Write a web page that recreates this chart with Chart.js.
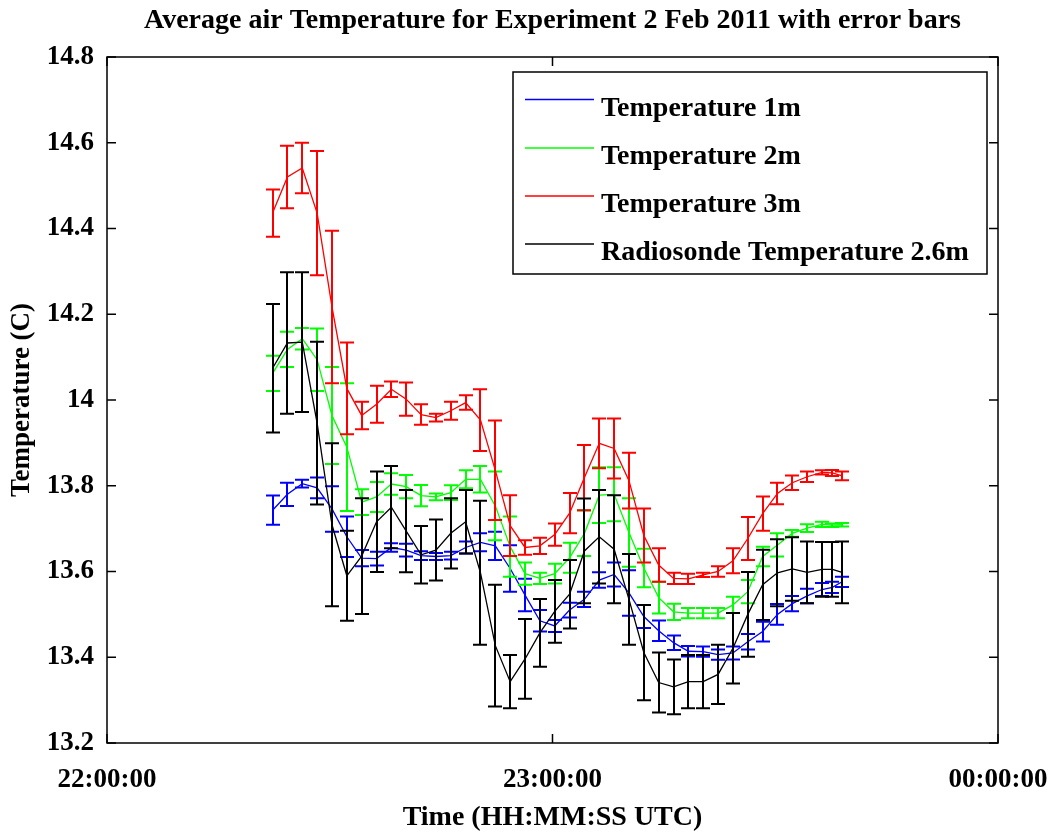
<!DOCTYPE html>
<html>
<head>
<meta charset="utf-8">
<title>Average air Temperature for Experiment 2 Feb 2011 with error bars</title>
<script src="https://cdn.jsdelivr.net/npm/chart.js@4.4.1/dist/chart.umd.min.js"></script>
<style>
  html, body { margin: 0; padding: 0; background: #ffffff; }
  #wrap { width: 1053px; height: 835px; position: relative; }
</style>
</head>
<body>
<div id="wrap"><canvas id="chart" width="1053" height="835"></canvas></div>
<script>
// Sample times, minutes after 22:00:00 UTC
const sampleMinutes = [22.3, 24.3, 26.3, 28.3, 30.3, 32.3, 34.3, 36.3, 38.3, 40.3,
  42.3, 44.3, 46.3, 48.3, 50.3, 52.3, 54.3, 56.3, 58.3, 60.3,
  62.3, 64.3, 66.3, 68.3, 70.3, 72.3, 74.3, 76.3, 78.3, 80.3,
  82.3, 84.3, 86.3, 88.3, 90.3, 92.3, 94.3, 96.3, 97.7, 99.0];

// Mean air temperature (C) and one-sided error, per sensor
const temp1m = [13.743, 13.780, 13.805, 13.795, 13.746, 13.681, 13.631, 13.630, 13.656, 13.650,
  13.637, 13.635, 13.637, 13.656, 13.668, 13.660, 13.607, 13.545, 13.485, 13.473,
  13.510, 13.535, 13.580, 13.593, 13.550, 13.495, 13.462, 13.434, 13.414, 13.413,
  13.406, 13.410, 13.436, 13.460, 13.500, 13.525, 13.543, 13.558, 13.563, 13.576];
const err1m = [0.034, 0.027, 0.009, 0.024, 0.053, 0.047, 0.019, 0.016, 0.010, 0.015,
  0.010, 0.008, 0.009, 0.014, 0.021, 0.033, 0.054, 0.038, 0.025, 0.014,
  0.017, 0.018, 0.018, 0.028, 0.053, 0.027, 0.024, 0.017, 0.012, 0.012,
  0.012, 0.015, 0.018, 0.023, 0.024, 0.018, 0.017, 0.015, 0.013, 0.012];

const temp2m = [14.062, 14.118, 14.143, 14.094, 13.964, 13.890, 13.762, 13.774, 13.804, 13.798,
  13.777, 13.774, 13.784, 13.815, 13.815, 13.753, 13.658, 13.595, 13.584, 13.595,
  13.632, 13.689, 13.778, 13.780, 13.691, 13.608, 13.539, 13.506, 13.503, 13.503,
  13.503, 13.522, 13.553, 13.635, 13.662, 13.689, 13.701, 13.710, 13.708, 13.709];
const err2m = [0.041, 0.041, 0.025, 0.073, 0.113, 0.149, 0.030, 0.035, 0.025, 0.027,
  0.025, 0.008, 0.017, 0.021, 0.031, 0.080, 0.070, 0.026, 0.013, 0.023,
  0.035, 0.053, 0.065, 0.063, 0.080, 0.045, 0.037, 0.019, 0.012, 0.012,
  0.012, 0.019, 0.027, 0.023, 0.027, 0.008, 0.009, 0.006, 0.004, 0.004];

const temp3m = [14.436, 14.520, 14.541, 14.436, 14.217, 14.027, 13.964, 13.990, 14.025, 14.002,
  13.966, 13.959, 13.975, 13.994, 13.953, 13.836, 13.707, 13.656, 13.660, 13.686,
  13.736, 13.819, 13.899, 13.887, 13.812, 13.684, 13.615, 13.584, 13.583, 13.592,
  13.600, 13.625, 13.677, 13.735, 13.782, 13.807, 13.821, 13.831, 13.830, 13.823];
const err3m = [0.055, 0.073, 0.059, 0.145, 0.178, 0.107, 0.032, 0.043, 0.018, 0.039,
  0.024, 0.009, 0.021, 0.017, 0.072, 0.116, 0.071, 0.017, 0.019, 0.026,
  0.047, 0.076, 0.058, 0.070, 0.065, 0.063, 0.039, 0.013, 0.012, 0.005,
  0.012, 0.029, 0.050, 0.040, 0.025, 0.017, 0.012, 0.005, 0.007, 0.010];

const tempSonde = [14.074, 14.133, 14.135, 13.946, 13.709, 13.590, 13.636, 13.716, 13.750, 13.694,
  13.639, 13.650, 13.689, 13.716, 13.597, 13.427, 13.343, 13.396, 13.457, 13.507,
  13.547, 13.648, 13.681, 13.652, 13.535, 13.411, 13.341, 13.331, 13.343, 13.343,
  13.360, 13.421, 13.500, 13.569, 13.597, 13.606, 13.598, 13.605, 13.605, 13.598];
const errSonde = [0.150, 0.165, 0.163, 0.190, 0.190, 0.105, 0.135, 0.117, 0.096, 0.096,
  0.067, 0.071, 0.082, 0.074, 0.168, 0.142, 0.062, 0.093, 0.079, 0.073,
  0.080, 0.122, 0.109, 0.126, 0.106, 0.111, 0.070, 0.064, 0.062, 0.062,
  0.069, 0.082, 0.099, 0.082, 0.078, 0.074, 0.072, 0.064, 0.064, 0.072];

const seriesLabels = ['Temperature 1m', 'Temperature 2m', 'Temperature 3m', 'Radiosonde Temperature 2.6m'];
const seriesColors = ['#0000ff', '#00ff00', '#ff0000', '#000000'];

const xTickMinutes = [0, 60, 120];
const xTickLabels = ['22:00:00', '23:00:00', '00:00:00'];
const yTickValues = [13.2, 13.4, 13.6, 13.8, 14.0, 14.2, 14.4, 14.6, 14.8];
const yTickLabels = ['13.2', '13.4', '13.6', '13.8', '14', '14.2', '14.4', '14.6', '14.8'];

const chartTitle = 'Average air Temperature for Experiment 2 Feb 2011 with error bars';
const serif = "'Liberation Serif', 'Times New Roman', serif";

function makeSeries(values, errors, idx, order) {
  return {
    label: seriesLabels[idx],
    data: values.map((v, i) => ({ x: sampleMinutes[i], y: v })),
    errors: errors,
    borderColor: seriesColors[idx],
    backgroundColor: seriesColors[idx],
    borderWidth: 1.3,
    pointRadius: 0,
    tension: 0,
    fill: false,
    order: order
  };
}

// Vertical error bars with end caps, drawn under each series line
const errorBarPlugin = {
  id: 'errorBars',
  beforeDatasetDraw(chart, args) {
    const ds = chart.data.datasets[args.index];
    if (!ds.errors) return;
    const xs = chart.scales.x, ys = chart.scales.y;
    const ctx = chart.ctx;
    const cap = 7;
    ctx.save();
    ctx.strokeStyle = ds.borderColor;
    ctx.lineWidth = 2;
    ds.data.forEach((p, i) => {
      const e = ds.errors[i];
      const px = Math.round(xs.getPixelForValue(p.x));
      const top = ys.getPixelForValue(p.y + e);
      const bot = ys.getPixelForValue(p.y - e);
      ctx.beginPath();
      ctx.moveTo(px, top); ctx.lineTo(px, bot);
      ctx.moveTo(px - cap, top); ctx.lineTo(px + cap, top);
      ctx.moveTo(px - cap, bot); ctx.lineTo(px + cap, bot);
      ctx.stroke();
    });
    ctx.restore();
  }
};

// Axes box with inward tick marks, plus the title
const framePlugin = {
  id: 'frame',
  afterDatasetsDraw(chart) {
    const { ctx, chartArea: a } = chart;
    const xs = chart.scales.x, ys = chart.scales.y;
    const tl = 9;
    ctx.save();
    ctx.strokeStyle = '#000';
    ctx.lineWidth = 1.5;
    ctx.strokeRect(a.left, a.top, a.right - a.left, a.bottom - a.top);
    ctx.beginPath();
    ys.ticks.forEach(t => {
      const py = ys.getPixelForValue(t.value);
      ctx.moveTo(a.left, py); ctx.lineTo(a.left + tl, py);
      ctx.moveTo(a.right, py); ctx.lineTo(a.right - tl, py);
    });
    xs.ticks.forEach(t => {
      const px = xs.getPixelForValue(t.value);
      ctx.moveTo(px, a.bottom); ctx.lineTo(px, a.bottom - tl);
      ctx.moveTo(px, a.top); ctx.lineTo(px, a.top + tl);
    });
    ctx.stroke();

    ctx.fillStyle = '#000';
    ctx.font = 'bold 28px ' + serif;
    ctx.textAlign = 'center';
    ctx.textBaseline = 'alphabetic';
    ctx.fillText(chartTitle, (a.left + a.right) / 2, 28);
    ctx.restore();
  }
};

// Boxed legend inside the upper-right of the plot
const legendBoxPlugin = {
  id: 'legendBox',
  afterDraw(chart) {
    const ctx = chart.ctx;
    const box = { left: 513, top: 72, right: 987, bottom: 274 };
    const rowY = [99.5, 148, 196, 244];
    ctx.save();
    ctx.fillStyle = '#fff';
    ctx.fillRect(box.left, box.top, box.right - box.left, box.bottom - box.top);
    ctx.strokeStyle = '#000';
    ctx.lineWidth = 1.5;
    ctx.strokeRect(box.left, box.top, box.right - box.left, box.bottom - box.top);
    ctx.font = 'bold 28px ' + serif;
    ctx.textAlign = 'left';
    ctx.textBaseline = 'alphabetic';
    seriesLabels.forEach((lab, i) => {
      ctx.strokeStyle = seriesColors[i];
      ctx.lineWidth = 1.5;
      ctx.beginPath();
      ctx.moveTo(525, rowY[i]); ctx.lineTo(594, rowY[i]);
      ctx.stroke();
      ctx.fillStyle = '#000';
      ctx.fillText(lab, 601, rowY[i] + 16);
    });
    ctx.restore();
  }
};

new Chart(document.getElementById('chart'), {
  type: 'line',
  data: {
    datasets: [
      makeSeries(temp1m, err1m, 0, 3),
      makeSeries(temp2m, err2m, 1, 2),
      makeSeries(temp3m, err3m, 2, 1),
      makeSeries(tempSonde, errSonde, 3, 0)
    ]
  },
  options: {
    responsive: false,
    animation: false,
    devicePixelRatio: 1,
    layout: { padding: { top: 57, right: 55, bottom: 0, left: 0 } },
    plugins: {
      legend: { display: false },
      title: { display: false },
      tooltip: { enabled: false }
    },
    scales: {
      x: {
        type: 'linear',
        min: 0,
        max: 120,
        afterBuildTicks: s => { s.ticks = xTickMinutes.map(v => ({ value: v })); },
        afterFit: s => { s.height = 92; s.paddingLeft = 0; s.paddingRight = 0; },
        grid: { display: false, drawTicks: false },
        border: { display: false },
        ticks: {
          autoSkip: false,
          maxRotation: 0,
          padding: 21,
          color: '#000',
          font: { family: serif, size: 27, weight: 'bold' },
          callback: (v, i) => xTickLabels[i]
        },
        title: {
          display: true,
          text: 'Time (HH:MM:SS UTC)',
          color: '#000',
          font: { family: serif, size: 28, weight: 'bold' },
          padding: { top: 0, bottom: 0 }
        }
      },
      y: {
        min: 13.2,
        max: 14.8,
        afterBuildTicks: s => { s.ticks = yTickValues.map(v => ({ value: v })); },
        afterFit: s => { s.width = 107; s.paddingTop = 0; s.paddingBottom = 0; },
        grid: { display: false, drawTicks: false },
        border: { display: false },
        ticks: {
          padding: 13,
          color: '#000',
          font: { family: serif, size: 27, weight: 'bold' },
          callback: (v, i) => yTickLabels[i]
        },
        title: {
          display: true,
          text: 'Temperature (C)',
          color: '#000',
          font: { family: serif, size: 27, weight: 'bold' },
          padding: { top: 6, bottom: 0 }
        }
      }
    }
  },
  plugins: [errorBarPlugin, framePlugin, legendBoxPlugin]
});
</script>
</body>
</html>
